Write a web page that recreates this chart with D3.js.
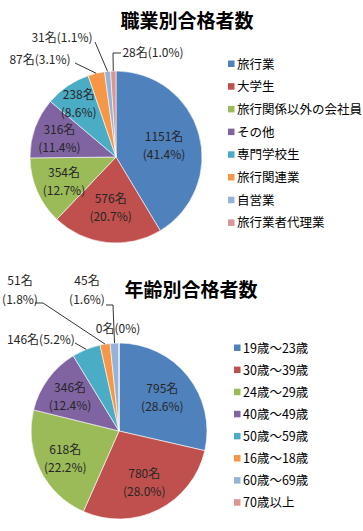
<!DOCTYPE html>
<html>
<head>
<meta charset="utf-8">
<script src="https://cdn.jsdelivr.net/npm/d3@7"></script>
<style>
    body { margin: 0; background: #fff; }
    svg { display: block; font-family: "Noto Sans CJK JP", "Noto Sans", sans-serif; }
</style>
</head>
<body>
<svg width="363" height="531"></svg>
<script>
"use strict"

// chart 1: 職業別
const jobTitle = "職業別合格者数"
const jobCategories = ["旅行業", "大学生", "旅行関係以外の会社員", "その他", "専門学校生", "旅行関連業", "自営業", "旅行業者代理業"]
const jobValues = [1151, 576, 354, 316, 238, 87, 31, 28]
const jobPercents = ["41.4%", "20.7%", "12.7%", "11.4%", "8.6%", "3.1%", "1.1%", "1.0%"]

// chart 2: 年齢別
const ageTitle = "年齢別合格者数"
const ageCategories = ["19歳～23歳", "30歳～39歳", "24歳～29歳", "40歳～49歳", "50歳～59歳", "16歳～18歳", "60歳～69歳", "70歳以上"]
const ageValues = [795, 780, 618, 346, 146, 51, 45, 0]
const agePercents = ["28.6%", "28.0%", "22.2%", "12.4%", "5.2%", "1.8%", "1.6%", "0%"]

const COLORS = ["#4f81bd", "#c0504d", "#9bbb59", "#8064a2", "#4bacc6", "#f79646", "#95b3d7", "#d99694"]

const svg = d3.select("svg")

// inside labels: radius as fraction of r; outside labels: offset from centre + leader shape
const charts = [
    {
        title: jobTitle, categories: jobCategories, values: jobValues, percents: jobPercents,
        cx: 116, cy: 157, r: 86, titleX: 187, titleY: 28,
        legendX: 228, legendY: 64, legendStep: 22.7,
        inside: [0.58, 0.57, 0.66, 0.7, 0.77],
        outside: [
            { lines: ["87名(3.1%)"], dx: -76, dy: -93, anchor: "middle", lead: [[-41, -94]] },
            { lines: ["31名(1.1%)"], dx: -54, dy: -115, anchor: "middle", lead: [[-21, -115]] },
            { lines: ["28名(1.0%)"], dx: 37, dy: -100, anchor: "middle", lead: [[5, -104], [-3, -104]] }
        ]
    },
    {
        title: ageTitle, categories: ageCategories, values: ageValues, percents: agePercents,
        cx: 119, cy: 431, r: 88, titleX: 191, titleY: 297,
        legendX: 234, legendY: 348, legendStep: 22.1,
        inside: [0.63, 0.64, 0.68, 0.69],
        outside: [
            { lines: ["146名(5.2%)"], dx: -78, dy: -87, anchor: "middle", lead: [[-44, -88]] },
            { lines: ["51名", "(1.8%)"], dx: -99, dy: -146, anchor: "middle", lead: [[-84, -128], [-76, -128]] },
            { lines: ["45名", "(1.6%)"], dx: -32, dy: -146, anchor: "middle", lead: [[-13, -126], [-6, -126]] },
            { lines: ["0名(0%)"], dx: -1, dy: -98, anchor: "middle", lead: null }
        ]
    }
]

charts.forEach((c) => {
    const g = svg.append("g").attr("transform", `translate(${c.cx},${c.cy})`)

    svg.append("text")
        .attr("x", c.titleX)
        .attr("y", c.titleY)
        .attr("text-anchor", "middle")
        .attr("font-size", "19px")
        .attr("font-weight", "bold")
        .attr("fill", "#000")
        .text(c.title)

    const pie = d3.pie().sort(null).value((d) => d)
    const arcs = pie(c.values)
    const arc = d3.arc().innerRadius(0).outerRadius(c.r)

    g.selectAll("path.slice")
        .data(arcs)
        .join("path")
        .attr("class", "slice")
        .attr("d", arc)
        .attr("fill", (d, i) => COLORS[i])
        .attr("stroke", "#fff")
        .attr("stroke-width", 0.6)

    // labels inside the big slices
    c.inside.forEach((f, i) => {
        const a = (arcs[i].startAngle + arcs[i].endAngle) / 2
        const x = Math.sin(a) * c.r * f
        const y = -Math.cos(a) * c.r * f
        const t = g.append("text")
            .attr("text-anchor", "middle")
            .attr("font-size", "12px")
            .attr("fill", "#262626")
        t.append("tspan").attr("x", x).attr("y", y - 3).text(`${c.values[i]}名`)
        t.append("tspan").attr("x", x).attr("y", y + 15).text(`(${c.percents[i]})`)
    })

    // outside labels with leader lines
    c.outside.forEach((o, k) => {
        const i = c.inside.length + k
        const t = g.append("text")
            .attr("text-anchor", o.anchor)
            .attr("font-size", "12px")
            .attr("fill", "#262626")
        o.lines.forEach((line, j) => {
            t.append("tspan").attr("x", o.dx).attr("y", o.dy + j * 19).text(line)
        })
        if (o.lead) {
            const a = (arcs[i].startAngle + arcs[i].endAngle) / 2
            const end = [Math.sin(a) * c.r, -Math.cos(a) * c.r]
            g.append("path")
                .attr("d", d3.line()([...o.lead, end]))
                .attr("fill", "none")
                .attr("stroke", "#000")
                .attr("stroke-width", 0.8)
        }
    })

    // legend
    const lg = svg.append("g")
        .selectAll("g")
        .data(c.categories)
        .join("g")
        .attr("transform", (d, i) => `translate(${c.legendX},${c.legendY + i * c.legendStep})`)
    lg.append("rect")
        .attr("x", 0).attr("y", -3.5)
        .attr("width", 6.5).attr("height", 6.5)
        .attr("fill", (d, i) => COLORS[i])
    lg.append("text")
        .attr("x", 9)
        .attr("y", 4.5)
        .attr("font-size", "12.5px")
        .attr("fill", "#000")
        .text((d) => d)
})
</script>
</body>
</html>
